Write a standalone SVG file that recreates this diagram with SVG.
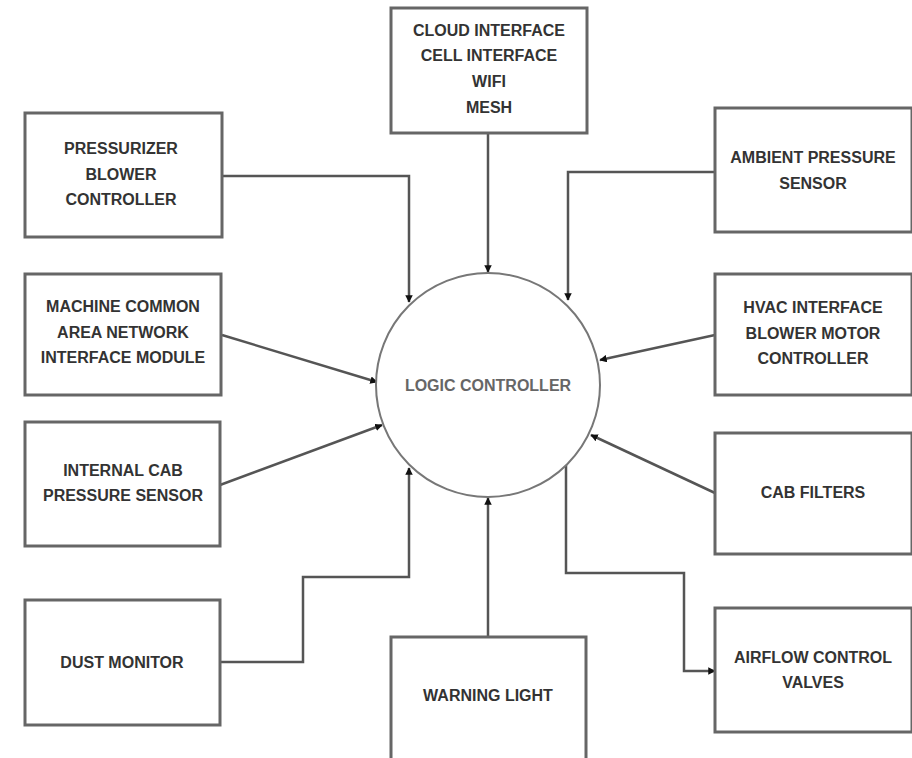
<svg xmlns="http://www.w3.org/2000/svg" width="912" height="758" viewBox="0 0 912 758">
<style>
.box{fill:#fff;stroke:#666;stroke-width:3}
.t{font-family:"Liberation Sans",Arial,sans-serif;font-size:16px;font-weight:bold;fill:#333;text-anchor:middle}
.lc{fill:#666}
.c{fill:none;stroke:#555;stroke-width:2.5}
.circ{fill:#fff;stroke:#777;stroke-width:2}
</style>
<defs>
<marker id="ah" viewBox="0 0 10 10" refX="9" refY="5" markerWidth="3" markerHeight="3" orient="auto" markerUnits="strokeWidth">
<path d="M0,0 L10,5 L0,10 z" fill="#111"/>
</marker>
</defs>
<rect width="912" height="758" fill="#fff"/>
<g id="connectors">
<polyline class="c" points="222,176 409,176 409,302" marker-end="url(#ah)"/>
<line class="c" x1="222" y1="335" x2="377" y2="382" marker-end="url(#ah)"/>
<line class="c" x1="220" y1="485" x2="382" y2="425" marker-end="url(#ah)"/>
<polyline class="c" points="220,662 303,662 303,577 409,577 409,468" marker-end="url(#ah)"/>
<line class="c" x1="488" y1="637" x2="488" y2="498" marker-end="url(#ah)"/>
<line class="c" x1="488" y1="133" x2="488" y2="272" marker-end="url(#ah)"/>
<polyline class="c" points="715,172 568,172 568,300" marker-end="url(#ah)"/>
<line class="c" x1="715" y1="335" x2="600" y2="360" marker-end="url(#ah)"/>
<line class="c" x1="715" y1="493" x2="591" y2="435" marker-end="url(#ah)"/>
<polyline class="c" points="566,465 566,573 684,573 684,671 715,671" marker-end="url(#ah)"/>
</g>
<g id="logic">
<circle class="circ" cx="488" cy="385" r="112"/>
<text class="t lc" x="488" y="391">LOGIC CONTROLLER</text>
</g>
<g id="cloud">
<rect class="box" x="391" y="8" width="196" height="125"/>
<text class="t" x="489" y="36">CLOUD INTERFACE</text>
<text class="t" x="489" y="61">CELL INTERFACE</text>
<text class="t" x="489" y="87">WIFI</text>
<text class="t" x="489" y="113">MESH</text>
</g>
<g id="pressurizer">
<rect class="box" x="25" y="113" width="197" height="124"/>
<text class="t" x="121" y="154">PRESSURIZER</text>
<text class="t" x="121" y="180">BLOWER</text>
<text class="t" x="121" y="205">CONTROLLER</text>
</g>
<g id="machine">
<rect class="box" x="25" y="274" width="196" height="121"/>
<text class="t" x="123" y="312">MACHINE COMMON</text>
<text class="t" x="123" y="338">AREA NETWORK</text>
<text class="t" x="123" y="363">INTERFACE MODULE</text>
</g>
<g id="internal">
<rect class="box" x="25" y="422" width="195" height="124"/>
<text class="t" x="123" y="476">INTERNAL CAB</text>
<text class="t" x="123" y="501">PRESSURE SENSOR</text>
</g>
<g id="dust">
<rect class="box" x="25" y="600" width="195" height="125"/>
<text class="t" x="122" y="668">DUST MONITOR</text>
</g>
<g id="warning">
<rect class="box" x="391" y="637" width="195" height="130"/>
<text class="t" x="488" y="701">WARNING LIGHT</text>
</g>
<g id="ambient">
<rect class="box" x="715" y="108" width="197" height="124"/>
<text class="t" x="813" y="163">AMBIENT PRESSURE</text>
<text class="t" x="813" y="189">SENSOR</text>
</g>
<g id="hvac">
<rect class="box" x="715" y="274" width="197" height="121"/>
<text class="t" x="813" y="313">HVAC INTERFACE</text>
<text class="t" x="813" y="339">BLOWER MOTOR</text>
<text class="t" x="813" y="364">CONTROLLER</text>
</g>
<g id="filters">
<rect class="box" x="715" y="433" width="197" height="121"/>
<text class="t" x="813" y="498">CAB FILTERS</text>
</g>
<g id="airflow">
<rect class="box" x="715" y="608" width="197" height="124"/>
<text class="t" x="813" y="663">AIRFLOW CONTROL</text>
<text class="t" x="813" y="688">VALVES</text>
</g>
</svg>
